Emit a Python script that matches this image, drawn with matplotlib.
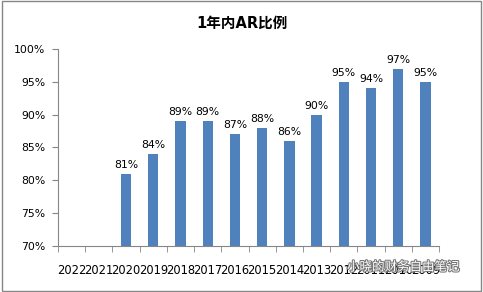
import matplotlib
matplotlib.use('Agg')
import matplotlib.pyplot as plt
import matplotlib.patheffects as pe

plt.rcParams['font.family'] = ['DejaVu Sans', 'Noto Sans CJK SC']

years = ['2022', '2021', '2020', '2019', '2018', '2017', '2016',
         '2015', '2014', '2013', '2012', '2011', '2010', '2009']
ratio = [None, None, 81, 84, 89, 89, 87, 88, 86, 90, 95, 94, 97, 95]
title = '1年内AR比例'
watermark = '小晓的财务自由笔记'

fig = plt.figure(figsize=(4.83, 2.92), dpi=100)
ax = fig.add_axes([0.12, 0.158, 0.789, 0.674])

xs = [i for i, v in enumerate(ratio) if v is not None]
vals = [v for v in ratio if v is not None]
ax.bar(xs, vals, width=0.38, color='#4F81BD', zorder=2)
for x, v in zip(xs, vals):
    ax.text(x, v + 0.6, '%d%%' % v, ha='center', va='bottom', fontsize=7.8, color='black')

ax.set_xlim(-0.5, len(years) - 0.5)
ax.set_ylim(70, 100)
ax.set_yticks(range(70, 101, 5))
ax.set_yticklabels(['%d%%' % t for t in range(70, 101, 5)], fontsize=7.8)

ax.set_xticks(range(len(years)))
ax.set_xticklabels(years, fontsize=8.3)
ax.set_xticks([i - 0.5 for i in range(len(years) + 1)], minor=True)
ax.tick_params(axis='x', which='major', length=0, pad=13)
ax.tick_params(axis='x', which='minor', length=4, color='#868686', direction='out')
ax.tick_params(axis='y', length=4, color='#868686', direction='out', pad=5)

for s in ['top', 'right']:
    ax.spines[s].set_visible(False)
for s in ['left', 'bottom']:
    ax.spines[s].set_color('#868686')
    ax.spines[s].set_linewidth(0.8)

fig.text(0.5, 0.922, title, ha='center', va='center', fontsize=10.5,
         fontweight='bold', family=['DejaVu Sans', 'Noto Sans CJK SC'])

wm = fig.text(0.835, 0.085, watermark, ha='center', va='center', fontsize=9,
              color='white', family=['Noto Sans CJK SC'])
wm.set_path_effects([pe.withStroke(linewidth=1.5, foreground='#777777')])

border = plt.Rectangle((0.004, 0.005), 0.992, 0.99, transform=fig.transFigure,
                       fill=False, edgecolor='#868686', linewidth=1)
fig.patches.append(border)

fig.savefig('out.png', dpi=100)
